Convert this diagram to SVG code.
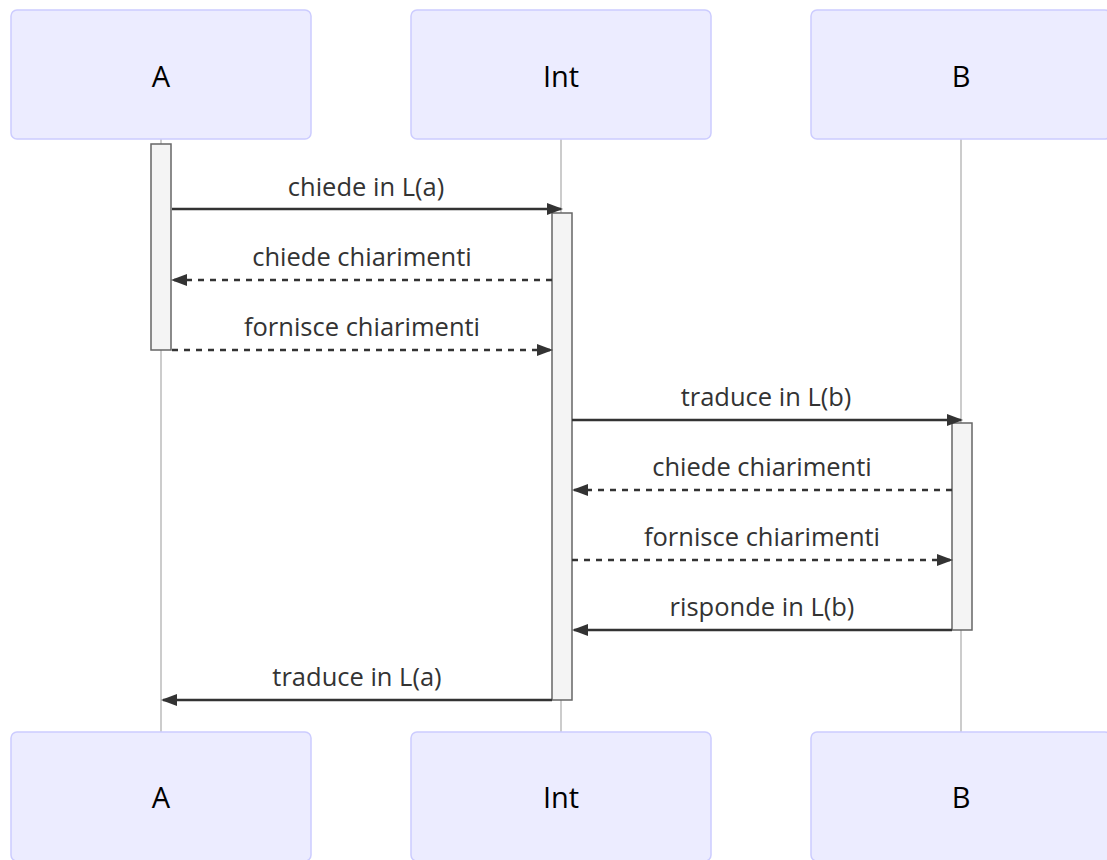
<svg xmlns="http://www.w3.org/2000/svg" width="1107" height="860" viewBox="0 0 1107 860">
<style>
.actor{fill:#ECECFF;stroke:#CCCCFF;stroke-width:1.5}
.atext{font-family:"Open Sans","Noto Sans",sans-serif;font-size:29px;fill:#000;text-anchor:middle}
.life{stroke:#999;stroke-width:1}
.act{fill:#F4F4F4;stroke:#666;stroke-width:1.5}
.msg{stroke:#333;stroke-width:2.5;fill:none;marker-end:url(#arrow)}
.dash{stroke-dasharray:6,6}
.mtext{font-family:"Open Sans","Noto Sans",sans-serif;font-size:25.5px;fill:#333;text-anchor:middle}
</style>
<defs>
<marker id="arrow" markerUnits="userSpaceOnUse" markerWidth="16" markerHeight="12" refX="14" refY="6" orient="auto">
<path d="M0,0 L16,6 L0,12 z" fill="#333"/>
</marker>
</defs>
<rect width="1107" height="860" fill="#fff"/>
<g id="lifelines">
<line class="life" x1="161" y1="139" x2="161" y2="732"/>
<line class="life" x1="561" y1="139" x2="561" y2="732"/>
<line class="life" x1="961" y1="139" x2="961" y2="732"/>
</g>
<g id="actor-A-top"><rect class="actor" x="11" y="10" width="300" height="129" rx="6"/><text class="atext" x="161" y="87">A</text></g>
<g id="actor-Int-top"><rect class="actor" x="411" y="10" width="300" height="129" rx="6"/><text class="atext" x="561" y="87">Int</text></g>
<g id="actor-B-top"><rect class="actor" x="811" y="10" width="300" height="129" rx="6"/><text class="atext" x="961" y="87">B</text></g>
<g id="actor-A-bottom"><rect class="actor" x="11" y="732" width="300" height="129" rx="6"/><text class="atext" x="161" y="808">A</text></g>
<g id="actor-Int-bottom"><rect class="actor" x="411" y="732" width="300" height="129" rx="6"/><text class="atext" x="561" y="808">Int</text></g>
<g id="actor-B-bottom"><rect class="actor" x="811" y="732" width="300" height="129" rx="6"/><text class="atext" x="961" y="808">B</text></g>
<g id="activation-A"><rect class="act" x="151" y="144" width="20" height="206"/></g>
<g id="activation-Int"><rect class="act" x="552" y="213" width="20" height="487"/></g>
<g id="activation-B"><rect class="act" x="952" y="423" width="20" height="207"/></g>
<g id="connectors">
<line class="msg" x1="172" y1="209" x2="561" y2="209"/>
<line class="msg dash" x1="552" y1="280" x2="173" y2="280"/>
<line class="msg dash" x1="172" y1="350" x2="551" y2="350"/>
<line class="msg" x1="572" y1="420" x2="961" y2="420"/>
<line class="msg dash" x1="952" y1="490" x2="574" y2="490"/>
<line class="msg dash" x1="572" y1="560" x2="951" y2="560"/>
<line class="msg" x1="952" y1="630" x2="574" y2="630"/>
<line class="msg" x1="552" y1="700" x2="163" y2="700"/>
</g>
<g id="labels">
<text class="mtext" x="366" y="196">chiede in L(a)</text>
<text class="mtext" x="362" y="266">chiede chiarimenti</text>
<text class="mtext" x="362" y="336">fornisce chiarimenti</text>
<text class="mtext" x="766" y="406">traduce in L(b)</text>
<text class="mtext" x="762" y="476">chiede chiarimenti</text>
<text class="mtext" x="762" y="546">fornisce chiarimenti</text>
<text class="mtext" x="762" y="616">risponde in L(b)</text>
<text class="mtext" x="357" y="686">traduce in L(a)</text>
</g>
</svg>
